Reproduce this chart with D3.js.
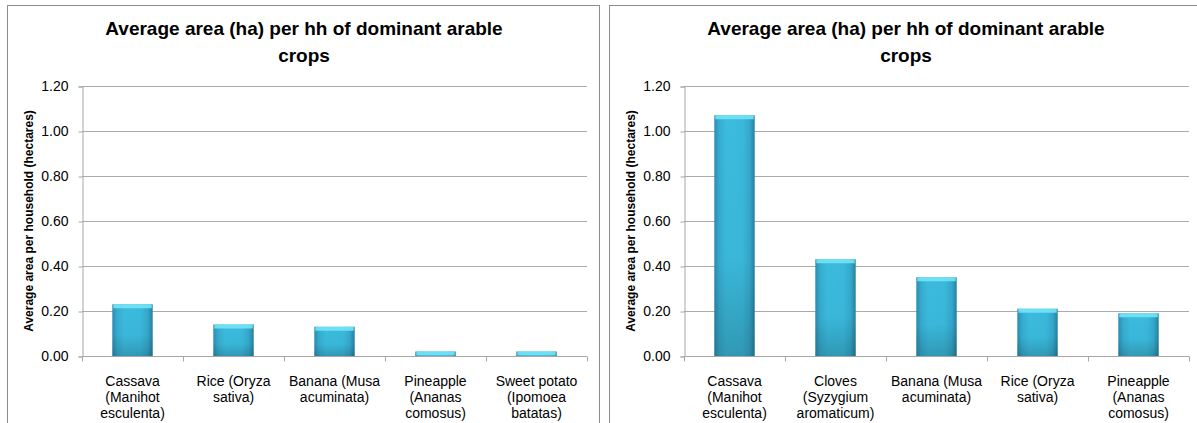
<!DOCTYPE html>
<html>
<head>
<meta charset="utf-8">
<script src="https://cdnjs.cloudflare.com/ajax/libs/d3/7.8.5/d3.min.js"></script>
<style>
  html, body { margin: 0; padding: 0; background: #fff; }
  svg { display: block; }
</style>
</head>
<body>
<div id="chart"></div>
<script>
// ---------- Data ----------
const chartTitle = "Average area (ha) per hh of dominant arable\ncrops";
const yAxisTitle = "Average area per household (hectares)";
const yTicks = [0, 0.2, 0.4, 0.6, 0.8, 1.0, 1.2];

const leftCategories = [
  "Cassava\n(Manihot\nesculenta)",
  "Rice (Oryza\nsativa)",
  "Banana (Musa\nacuminata)",
  "Pineapple\n(Ananas\ncomosus)",
  "Sweet potato\n(Ipomoea\nbatatas)"
];
const leftValues = [0.23, 0.14, 0.13, 0.02, 0.02];

const rightCategories = [
  "Cassava\n(Manihot\nesculenta)",
  "Cloves\n(Syzygium\naromaticum)",
  "Banana (Musa\nacuminata)",
  "Rice (Oryza\nsativa)",
  "Pineapple\n(Ananas\ncomosus)"
];
const rightValues = [1.07, 0.43, 0.35, 0.21, 0.19];

const width = 1197;
const height = 423;
const narrow = "'Liberation Sans Narrow', 'Liberation Sans', Arial, sans-serif";
const wide = "'Liberation Sans', Arial, sans-serif";

const svg = d3.select("#chart")
  .append("svg")
  .attr("width", width)
  .attr("height", height);

// ---------- Gradients for the bevelled bars ----------
const defs = svg.append("defs");
const hGrad = defs.append("linearGradient").attr("id", "barH")
  .attr("x1", 0).attr("x2", 1).attr("y1", 0).attr("y2", 0);
[[0, "#2a8db0"], [0.12, "#36acd0"], [0.3, "#3bbbdd"], [0.7, "#3ab9dc"], [0.88, "#34a8cc"], [1, "#26809f"]]
  .forEach(([o, c]) => hGrad.append("stop").attr("offset", o).attr("stop-color", c));
const vGrad = defs.append("linearGradient").attr("id", "barV")
  .attr("x1", 0).attr("x2", 0).attr("y1", 0).attr("y2", 1);
[[0, "#000", 0], [0.6, "#000", 0.02], [1, "#000", 0.18]]
  .forEach(([o, c, a]) => vGrad.append("stop").attr("offset", o).attr("stop-color", c).attr("stop-opacity", a));

// ---------- One chart panel ----------
function drawChart(x0, categories, values) {
  const g = svg.append("g");

  // panel frame
  g.append("rect")
    .attr("x", x0 + 0.5).attr("y", 5.5)
    .attr("width", 592).attr("height", 430)
    .attr("fill", "#fff")
    .attr("stroke", "#8c8c8c");

  const left = x0 + 75, right = x0 + 580;
  const x = d3.scaleBand().domain(categories).range([left, right]).padding(0);
  const y = d3.scaleLinear().domain([0, 1.2]).range([356, 86]);

  // gridlines
  g.append("g")
    .selectAll("line")
    .data(yTicks.slice(1))
    .join("line")
    .attr("x1", left).attr("x2", right)
    .attr("y1", d => Math.round(y(d)) + 0.5)
    .attr("y2", d => Math.round(y(d)) + 0.5)
    .attr("stroke", "#ababab");

  // y axis
  const yAxis = g.append("g")
    .attr("transform", `translate(${left + 0.5},0.5)`)
    .call(d3.axisLeft(y).tickValues(yTicks).tickFormat(d3.format(".2f")).tickSizeOuter(0).tickSize(4).tickPadding(10));
  yAxis.select(".domain").attr("stroke", "#a6a6a6");
  yAxis.selectAll(".tick line").attr("stroke", "#a6a6a6");
  yAxis.selectAll("text")
    .attr("font-family", narrow)
    .attr("font-size", 14)
    .attr("fill", "#000");

  // bars
  const bw = x.bandwidth() * 0.4;
  const bars = g.append("g")
    .selectAll("g")
    .data(values)
    .join("g")
    .attr("transform", (d, i) => `translate(${x(categories[i]) + (x.bandwidth() - bw) / 2},0)`);

  bars.append("rect")
    .attr("x", 0).attr("width", bw)
    .attr("y", d => y(d)).attr("height", d => y(0) - y(d))
    .attr("fill", "url(#barH)");
  bars.append("rect")
    .attr("x", 0).attr("width", bw)
    .attr("y", d => y(d)).attr("height", d => y(0) - y(d))
    .attr("fill", "url(#barV)");
  bars.append("rect")
    .attr("x", 1).attr("width", bw - 2)
    .attr("y", d => y(d)).attr("height", d => Math.min(4, y(0) - y(d)))
    .attr("fill", "#74e3f6")
    .attr("opacity", 0.9);

  // x axis
  const xAxis = g.append("g")
    .attr("transform", `translate(0,${Math.round(y(0)) + 0.5})`);
  xAxis.append("line")
    .attr("x1", left).attr("x2", right)
    .attr("stroke", "#a6a6a6");
  xAxis.selectAll("line.tk")
    .data(categories.concat([null]))
    .join("line")
    .attr("class", "tk")
    .attr("x1", (d, i) => Math.round(left + i * x.step()) + 0.5)
    .attr("x2", (d, i) => Math.round(left + i * x.step()) + 0.5)
    .attr("y1", 0).attr("y2", 5)
    .attr("stroke", "#a6a6a6");

  const labels = xAxis.selectAll("text")
    .data(categories)
    .join("text")
    .attr("x", d => x(d) + x.bandwidth() / 2)
    .attr("text-anchor", "middle")
    .attr("font-family", narrow)
    .attr("font-size", 14)
    .attr("fill", "#000");
  labels.selectAll("tspan")
    .data(d => d.split("\n"))
    .join("tspan")
    .attr("x", function () { return d3.select(this.parentNode).attr("x"); })
    .attr("y", (d, i) => 29 + i * 16)
    .text(d => d);

  // y axis title
  g.append("text")
    .attr("transform", `translate(${x0 + 26},221) rotate(-90)`)
    .attr("text-anchor", "middle")
    .attr("font-family", narrow)
    .attr("font-weight", "bold")
    .attr("font-size", 12)
    .text(yAxisTitle);

  // chart title
  g.append("text")
    .attr("text-anchor", "middle")
    .attr("font-family", wide)
    .attr("font-weight", "bold")
    .attr("font-size", 19)
    .selectAll("tspan")
    .data(chartTitle.split("\n"))
    .join("tspan")
    .attr("x", x0 + 297)
    .attr("y", (d, i) => 35 + i * 27)
    .text(d => d);
}

drawChart(7, leftCategories, leftValues);
drawChart(609, rightCategories, rightValues);
</script>
</body>
</html>
